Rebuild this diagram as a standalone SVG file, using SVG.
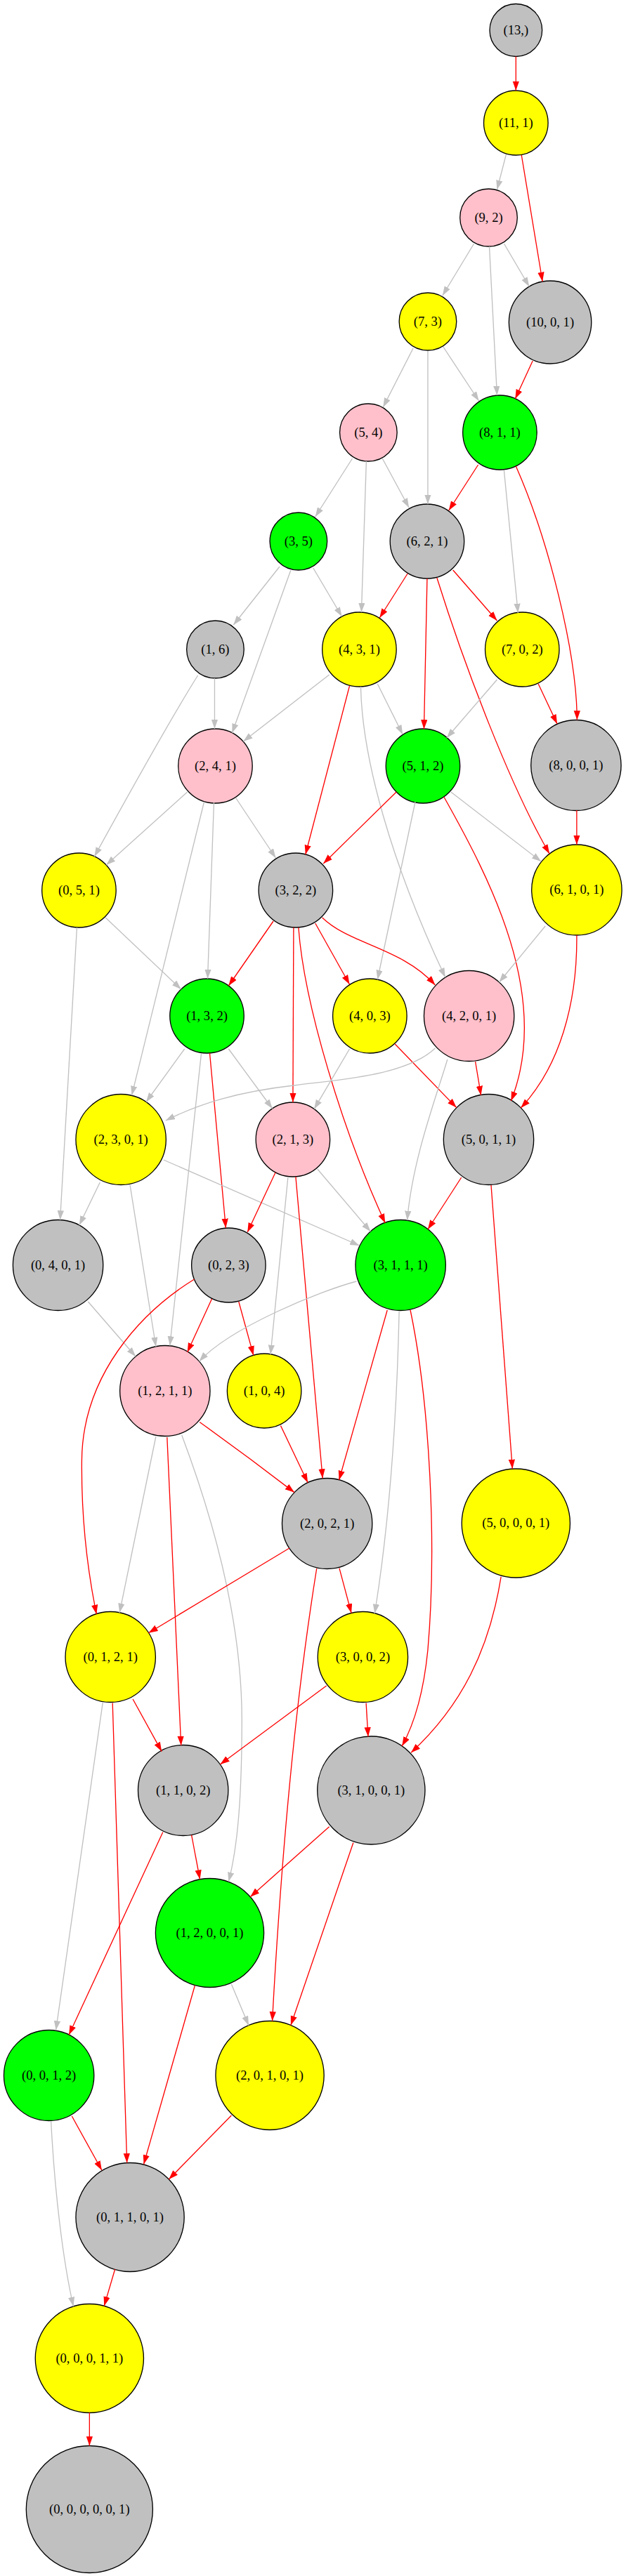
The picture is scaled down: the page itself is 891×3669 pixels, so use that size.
<svg xmlns="http://www.w3.org/2000/svg" width="891" height="3669" viewBox="0 0 891 3669">
<style>
.nd circle{stroke:#000;stroke-width:1.33}
.cg{fill:#c0c0c0}.cp{fill:#ffc0cb}.cy{fill:#ffff00}.cn{fill:#00ff00}
.nd text{font-family:"Liberation Serif","Times New Roman",serif;font-size:18.67px;text-anchor:middle;fill:#000}
#edges path{fill:none;stroke-width:1.33}
#edges .r{stroke:#ff0000;marker-end:url(#ar)}
#edges .g{stroke:#c0c0c0;marker-end:url(#ag)}
</style>
<defs>
<marker id="ar" markerUnits="userSpaceOnUse" markerWidth="15" markerHeight="11" refX="13.3" refY="4.67" orient="auto"><path d="M0,0 L13.3,4.67 L0,9.33 Z" fill="#ff0000"/></marker>
<marker id="ag" markerUnits="userSpaceOnUse" markerWidth="15" markerHeight="11" refX="13.3" refY="4.67" orient="auto"><path d="M0,0 L13.3,4.67 L0,9.33 Z" fill="#c0c0c0"/></marker>
</defs>
<rect width="891" height="3669" fill="#fff"/>
<g transform="scale(0.995 1)">
<g id="nodes">
<g id="n1" class="nd"><circle class="cg" cx="738" cy="43" r="37.5"/><text x="738" y="49">(13,)</text></g>
<g id="n2" class="nd"><circle class="cy" cx="738" cy="175" r="46"/><text x="738" y="181">(11, 1)</text></g>
<g id="n3" class="nd"><circle class="cp" cx="699" cy="310" r="41"/><text x="699" y="316">(9, 2)</text></g>
<g id="n4" class="nd"><circle class="cy" cx="612" cy="458" r="41"/><text x="612" y="464">(7, 3)</text></g>
<g id="n5" class="nd"><circle class="cg" cx="787" cy="459" r="59"/><text x="787" y="465">(10, 0, 1)</text></g>
<g id="n6" class="nd"><circle class="cp" cx="527" cy="616" r="41"/><text x="527" y="622">(5, 4)</text></g>
<g id="n7" class="nd"><circle class="cn" cx="715" cy="616" r="53"/><text x="715" y="622">(8, 1, 1)</text></g>
<g id="n8" class="nd"><circle class="cn" cx="427" cy="771" r="41"/><text x="427" y="777">(3, 5)</text></g>
<g id="n9" class="nd"><circle class="cg" cx="611" cy="771" r="53"/><text x="611" y="777">(6, 2, 1)</text></g>
<g id="n10" class="nd"><circle class="cg" cx="308" cy="925" r="41"/><text x="308" y="931">(1, 6)</text></g>
<g id="n11" class="nd"><circle class="cy" cx="514" cy="925" r="53"/><text x="514" y="931">(4, 3, 1)</text></g>
<g id="n12" class="nd"><circle class="cy" cx="747" cy="925" r="53"/><text x="747" y="931">(7, 0, 2)</text></g>
<g id="n13" class="nd"><circle class="cp" cx="308" cy="1091" r="53"/><text x="308" y="1097">(2, 4, 1)</text></g>
<g id="n14" class="nd"><circle class="cn" cx="605" cy="1091" r="53"/><text x="605" y="1097">(5, 1, 2)</text></g>
<g id="n15" class="nd"><circle class="cg" cx="824" cy="1090" r="64.5"/><text x="824" y="1096">(8, 0, 0, 1)</text></g>
<g id="n16" class="nd"><circle class="cy" cx="113" cy="1268" r="53"/><text x="113" y="1274">(0, 5, 1)</text></g>
<g id="n17" class="nd"><circle class="cg" cx="423" cy="1268" r="53"/><text x="423" y="1274">(3, 2, 2)</text></g>
<g id="n18" class="nd"><circle class="cy" cx="825" cy="1267.5" r="64.5"/><text x="825" y="1273.5">(6, 1, 0, 1)</text></g>
<g id="n19" class="nd"><circle class="cn" cx="296" cy="1447" r="53"/><text x="296" y="1453">(1, 3, 2)</text></g>
<g id="n20" class="nd"><circle class="cy" cx="529" cy="1447" r="53"/><text x="529" y="1453">(4, 0, 3)</text></g>
<g id="n21" class="nd"><circle class="cp" cx="671" cy="1447" r="64.5"/><text x="671" y="1453">(4, 2, 0, 1)</text></g>
<g id="n22" class="nd"><circle class="cy" cx="173" cy="1623" r="64.5"/><text x="173" y="1629">(2, 3, 0, 1)</text></g>
<g id="n23" class="nd"><circle class="cp" cx="419" cy="1623" r="53"/><text x="419" y="1629">(2, 1, 3)</text></g>
<g id="n24" class="nd"><circle class="cg" cx="699" cy="1623" r="64.5"/><text x="699" y="1629">(5, 0, 1, 1)</text></g>
<g id="n25" class="nd"><circle class="cg" cx="83" cy="1802" r="64.5"/><text x="83" y="1808">(0, 4, 0, 1)</text></g>
<g id="n26" class="nd"><circle class="cg" cx="327" cy="1802" r="53"/><text x="327" y="1808">(0, 2, 3)</text></g>
<g id="n27" class="nd"><circle class="cn" cx="573" cy="1802" r="64.5"/><text x="573" y="1808">(3, 1, 1, 1)</text></g>
<g id="n28" class="nd"><circle class="cp" cx="236" cy="1981" r="64.5"/><text x="236" y="1987">(1, 2, 1, 1)</text></g>
<g id="n29" class="nd"><circle class="cy" cx="378" cy="1981" r="53"/><text x="378" y="1987">(1, 0, 4)</text></g>
<g id="n30" class="nd"><circle class="cg" cx="468" cy="2170" r="64.5"/><text x="468" y="2176">(2, 0, 2, 1)</text></g>
<g id="n31" class="nd"><circle class="cy" cx="738" cy="2169.5" r="77.5"/><text x="738" y="2175.5">(5, 0, 0, 0, 1)</text></g>
<g id="n32" class="nd"><circle class="cy" cx="158" cy="2360" r="64.5"/><text x="158" y="2366">(0, 1, 2, 1)</text></g>
<g id="n33" class="nd"><circle class="cy" cx="519" cy="2360" r="64.5"/><text x="519" y="2366">(3, 0, 0, 2)</text></g>
<g id="n34" class="nd"><circle class="cg" cx="262" cy="2550" r="64.5"/><text x="262" y="2556">(1, 1, 0, 2)</text></g>
<g id="n35" class="nd"><circle class="cg" cx="531" cy="2550" r="77"/><text x="531" y="2556">(3, 1, 0, 0, 1)</text></g>
<g id="n36" class="nd"><circle class="cn" cx="300" cy="2753" r="77.5"/><text x="300" y="2759">(1, 2, 0, 0, 1)</text></g>
<g id="n37" class="nd"><circle class="cn" cx="70" cy="2956" r="64.5"/><text x="70" y="2962">(0, 0, 1, 2)</text></g>
<g id="n38" class="nd"><circle class="cy" cx="386" cy="2956" r="77.5"/><text x="386" y="2962">(2, 0, 1, 0, 1)</text></g>
<g id="n39" class="nd"><circle class="cg" cx="186" cy="3158" r="77.5"/><text x="186" y="3164">(0, 1, 1, 0, 1)</text></g>
<g id="n40" class="nd"><circle class="cy" cx="128" cy="3359" r="77.5"/><text x="128" y="3365">(0, 0, 0, 1, 1)</text></g>
<g id="n41" class="nd"><circle class="cg" cx="128" cy="3574" r="90.5"/><text x="128" y="3580">(0, 0, 0, 0, 0, 1)</text></g>
</g>
<g id="edges">
<path class="r" d="M738,80.5 L738,129"/>
<path class="g" d="M724,220 L711,270"/>
<path class="r" d="M746,221 L776,401"/>
<path class="g" d="M678,347 L633,421"/>
<path class="g" d="M721,347 L757,408"/>
<path class="g" d="M700,351 L711,563"/>
<path class="g" d="M591,496 L548,580"/>
<path class="g" d="M612,500 L612,718"/>
<path class="g" d="M634,494 L685,571"/>
<path class="r" d="M762,514 L737,568"/>
<path class="g" d="M504,653 L451,736"/>
<path class="g" d="M524,657 L517,872"/>
<path class="g" d="M547,653 L585,723"/>
<path class="r" d="M684,662 L642,727"/>
<path class="g" d="M721,670 L741,873"/>
<path class="r" d="M738,664 C785,770 825,930 825.5,1025.5"/>
<path class="g" d="M400,807 L334,890"/>
<path class="g" d="M416,812 L332,1044"/>
<path class="g" d="M448,809 L489,878"/>
<path class="r" d="M583,817 L543,880"/>
<path class="r" d="M611,824 L606.5,1038.5"/>
<path class="r" d="M625,823 C665,950 730,1120 786,1216"/>
<path class="r" d="M648,812 L711,884"/>
<path class="g" d="M283,962 Q240,1030 135,1220"/>
<path class="g" d="M307,966 L307,1038"/>
<path class="g" d="M471,961 L348,1056"/>
<path class="r" d="M500,977 L437,1217"/>
<path class="g" d="M540,974 L576,1046"/>
<path class="g" d="M516,978 C518,1080 560,1230 637,1392"/>
<path class="g" d="M711,968 L639,1051"/>
<path class="r" d="M770,974 L797,1031"/>
<path class="g" d="M268,1128 L152,1232"/>
<path class="g" d="M337,1136 L394.5,1222"/>
<path class="g" d="M306,1143 L297,1394"/>
<path class="g" d="M292,1142 L188.5,1560"/>
<path class="r" d="M567,1128 L462.6,1230"/>
<path class="g" d="M594,1142 L540,1395"/>
<path class="g" d="M645,1128 L774,1227"/>
<path class="r" d="M635,1135 C700,1250 790,1420 731,1568"/>
<path class="r" d="M825,1154 L825,1203"/>
<path class="g" d="M151,1307 L259,1409"/>
<path class="g" d="M110,1321 L86,1737.5"/>
<path class="r" d="M391,1312 L327,1404"/>
<path class="r" d="M420,1321 L419,1570"/>
<path class="r" d="M427,1321 C435,1430 490,1610 551,1742"/>
<path class="r" d="M451,1315 L500,1402"/>
<path class="r" d="M461,1307 C500,1345 575,1350 622.5,1403"/>
<path class="g" d="M780,1319 L714,1399"/>
<path class="r" d="M825,1332 C826,1430 800,1520 745,1578"/>
<path class="g" d="M264,1494 L209,1569.5"/>
<path class="g" d="M288,1500 L243,1916.5"/>
<path class="r" d="M300,1500 L323,1749"/>
<path class="g" d="M327,1494 L389.6,1579"/>
<path class="g" d="M500,1494 L449.4,1579.6"/>
<path class="r" d="M565,1487 L653,1577.6"/>
<path class="g" d="M622.5,1493 C580,1533 480,1538 420,1546 C340,1555 285,1572 237,1596"/>
<path class="r" d="M680,1512 L688,1560"/>
<path class="g" d="M640,1509 C625,1560 590,1650 582.5,1738"/>
<path class="g" d="M143,1684 L113.4,1745"/>
<path class="g" d="M186,1688 L223,1918"/>
<path class="g" d="M234,1652 L514,1774"/>
<path class="r" d="M394,1670 L354,1755"/>
<path class="g" d="M412,1676 L387,1929"/>
<path class="g" d="M454,1665 L530,1754"/>
<path class="r" d="M423,1676 L461.5,2105.5"/>
<path class="r" d="M660,1677 L612,1751"/>
<path class="r" d="M702.5,1688 L733,2092"/>
<path class="g" d="M126,1854 L194,1932"/>
<path class="r" d="M303,1850 L268,1926"/>
<path class="r" d="M341.5,1854 L362.6,1930.4"/>
<path class="r" d="M278,1822 C200,1870 118,1960 117,2080 C116,2180 130,2260 138,2299"/>
<path class="g" d="M510,1825 C460,1838 330,1890 285,1939"/>
<path class="r" d="M554,1866 L485,2108"/>
<path class="g" d="M571,1867.5 C568,2000 560,2150 536,2298"/>
<path class="r" d="M587,1866 C615,2000 625,2200 612,2350 C605,2420 590,2460 575,2487"/>
<path class="g" d="M223,2046 L171,2297"/>
<path class="r" d="M239,2047 L259,2486"/>
<path class="g" d="M260,2044 C300,2150 346,2300 346,2450 C346,2560 340,2630 327,2680"/>
<path class="r" d="M285.6,2025.5 Q355,2075 421,2125.6"/>
<path class="r" d="M401.5,2030.6 L440.3,2111.8"/>
<path class="r" d="M414,2205 L212.6,2325.7"/>
<path class="r" d="M485.4,2233.6 L502.6,2297.5"/>
<path class="r" d="M453,2234 Q410,2500 389.5,2878.5"/>
<path class="r" d="M716.7,2245.8 C700,2350 660,2430 588,2496.3"/>
<path class="g" d="M147,2425 L80,2891.5"/>
<path class="r" d="M161,2425.6 L181.6,3080.5"/>
<path class="r" d="M190,2420 L231.3,2494.6"/>
<path class="r" d="M467,2401 L315,2513"/>
<path class="r" d="M523.7,2425.6 L526.6,2473.5"/>
<path class="r" d="M233,2609.5 L98.6,2898.2"/>
<path class="r" d="M274,2613.6 L286,2676.8"/>
<path class="r" d="M471,2601.7 L358,2701.7"/>
<path class="r" d="M505.4,2624.5 L416,2884.5"/>
<path class="g" d="M331,2826 L355.7,2884.8"/>
<path class="r" d="M278.7,2828.3 L205.6,3082.5"/>
<path class="r" d="M102.8,3014 L145.6,3091"/>
<path class="g" d="M73,3021 C78,3120 90,3220 105,3285"/>
<path class="r" d="M331,3013 L241.5,3104"/>
<path class="r" d="M164.5,3232 L149,3284.4"/>
<path class="r" d="M128,3436.5 L128,3483.5"/>
</g>
</g>
</svg>
